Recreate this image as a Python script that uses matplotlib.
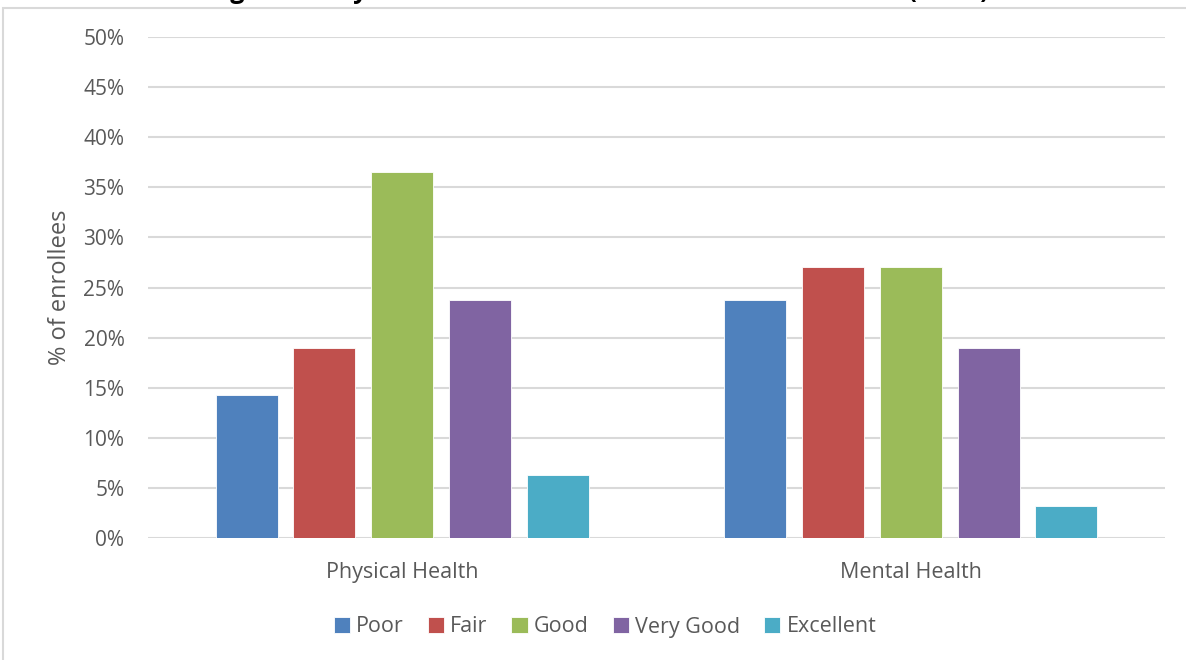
import numpy as np
import matplotlib
matplotlib.use("Agg")
import matplotlib.pyplot as plt
from matplotlib.patches import Rectangle
from matplotlib.ticker import PercentFormatter

# Data (share of enrollees, N=63)
categories = ["Physical Health", "Mental Health"]
ratings = ["Poor", "Fair", "Good", "Very Good", "Excellent"]
poor = [0.143, 0.238]
fair = [0.190, 0.270]
good = [0.365, 0.270]
very_good = [0.238, 0.190]
excellent = [0.063, 0.032]
series = [poor, fair, good, very_good, excellent]
colors = ["#4F81BD", "#C0504D", "#9BBB59", "#8064A2", "#4BACC6"]
y_ticks = [0, 0.05, 0.10, 0.15, 0.20, 0.25, 0.30, 0.35, 0.40, 0.45, 0.50]

plt.rcParams['font.family'] = ['Open Sans', 'DejaVu Sans']
text_color = "#595959"
grid_color = "#D9D9D9"

fig = plt.figure(figsize=(11.86, 6.6), dpi=100)
ax = fig.add_axes([0.1248, 0.1848, 0.8575, 0.7591])

# outer chart frame
fig.patches.append(Rectangle((0.0025, -0.01), 1.2, 1 - 8 / 660 + 0.01,
                             transform=fig.transFigure, fill=False,
                             edgecolor=grid_color, linewidth=1.5))

x = np.arange(len(categories))
bar_w = 0.122
step = 0.153
for i, (vals, col, lab) in enumerate(zip(series, colors, ratings)):
    offs = (i - 2) * step
    ax.bar(x + offs, vals, width=bar_w, color=col, label=lab,
           edgecolor="white", linewidth=0.6, zorder=3)

ax.set_xlim(-0.5, 1.5)
ax.set_ylim(0, 0.5)
ax.set_yticks(y_ticks)
ax.yaxis.set_major_formatter(PercentFormatter(1.0, decimals=0))
ax.set_xticks(x)
ax.set_xticklabels(categories, fontsize=15.5)
ax.tick_params(axis="both", length=0, colors=text_color)
ax.tick_params(axis="y", pad=17, labelsize=15)
ax.tick_params(axis="x", pad=17)
ax.grid(axis="y", color=grid_color, linewidth=1.5, zorder=0)
ax.set_axisbelow(True)
for s in ax.spines.values():
    s.set_visible(False)

ax.set_ylabel("% of enrollees", fontsize=17, color=text_color, labelpad=8)

ax.legend(loc="center", bbox_to_anchor=(605 / 1186, 1 - 627 / 660),
          bbox_transform=fig.transFigure, ncol=5, frameon=False,
          fontsize=15.5, handlelength=0.75, handleheight=0.75,
          handletextpad=0.3, columnspacing=1.1, labelcolor=text_color)

# title sits mostly above the figure edge, as in the source image
fig.text(0.505, 1 + 2 / 660, "Figure 6: Physical and Mental Health Status of Enrollees (N=63)",
         ha="center", va="baseline", fontsize=18, fontweight="bold", color="black")

fig.savefig("out.png", dpi=100)
